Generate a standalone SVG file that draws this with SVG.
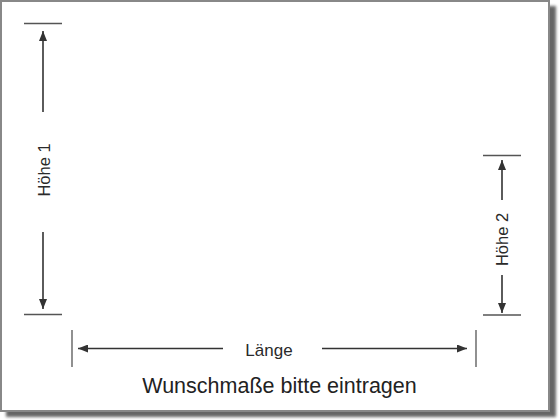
<svg xmlns="http://www.w3.org/2000/svg" width="560" height="420" viewBox="0 0 560 420">
<defs>
<filter id="sh" x="-5%" y="-5%" width="110%" height="110%"><feGaussianBlur stdDeviation="1.5"/></filter>
<marker id="ah" viewBox="0 0 10 8" refX="10" refY="4" markerWidth="10" markerHeight="8" markerUnits="userSpaceOnUse" orient="auto"><path d="M0,0 L10,4 L0,8 Z" fill="#333"/></marker>
<style>
.tick{stroke:#555;stroke-width:1.3;fill:none}
.dim{stroke:#333;stroke-width:1.6;fill:none;marker-end:url(#ah)}
.lbl{font-family:"Liberation Sans",Arial,sans-serif;font-size:16.5px;fill:#2a2a2a;text-anchor:middle}
.lbl.big{font-size:17px}
</style>
</defs>
<rect x="0" y="0" width="560" height="420" fill="#fff"/>
<rect x="6" y="6" width="550" height="411" fill="#666" filter="url(#sh)"/>
<rect x="1" y="1" width="548" height="410" fill="#fff" stroke="#888" stroke-width="2"/>
<g id="hoehe1">
<line class="tick" x1="24" y1="23.5" x2="62" y2="23.5"/>
<line class="tick" x1="24" y1="314.5" x2="62" y2="314.5"/>
<line class="dim" x1="43" y1="112" x2="43" y2="31"/>
<line class="dim" x1="43" y1="232" x2="43" y2="309"/>
<text class="lbl" transform="translate(49.5,170) rotate(-90)">Höhe 1</text>
</g>
<g id="hoehe2">
<line class="tick" x1="483" y1="155.5" x2="521" y2="155.5"/>
<line class="tick" x1="483" y1="315" x2="521" y2="315"/>
<line class="dim" x1="502" y1="200" x2="502" y2="160"/>
<line class="dim" x1="502" y1="275" x2="502" y2="313"/>
<text class="lbl" transform="translate(507.5,239.5) rotate(-90)">Höhe 2</text>
</g>
<g id="laenge">
<line class="tick" x1="72" y1="330" x2="72" y2="367"/>
<line class="tick" x1="476" y1="330" x2="476" y2="367"/>
<line class="dim" x1="223" y1="348.5" x2="78" y2="348.5"/>
<line class="dim" x1="322" y1="348.5" x2="467" y2="348.5"/>
<text class="lbl big" x="269" y="356">Länge</text>
</g>
<text x="279.5" y="393" font-family="Liberation Sans, Arial, sans-serif" font-size="21.5" fill="#222" text-anchor="middle">Wunschmaße bitte eintragen</text>
</svg>
